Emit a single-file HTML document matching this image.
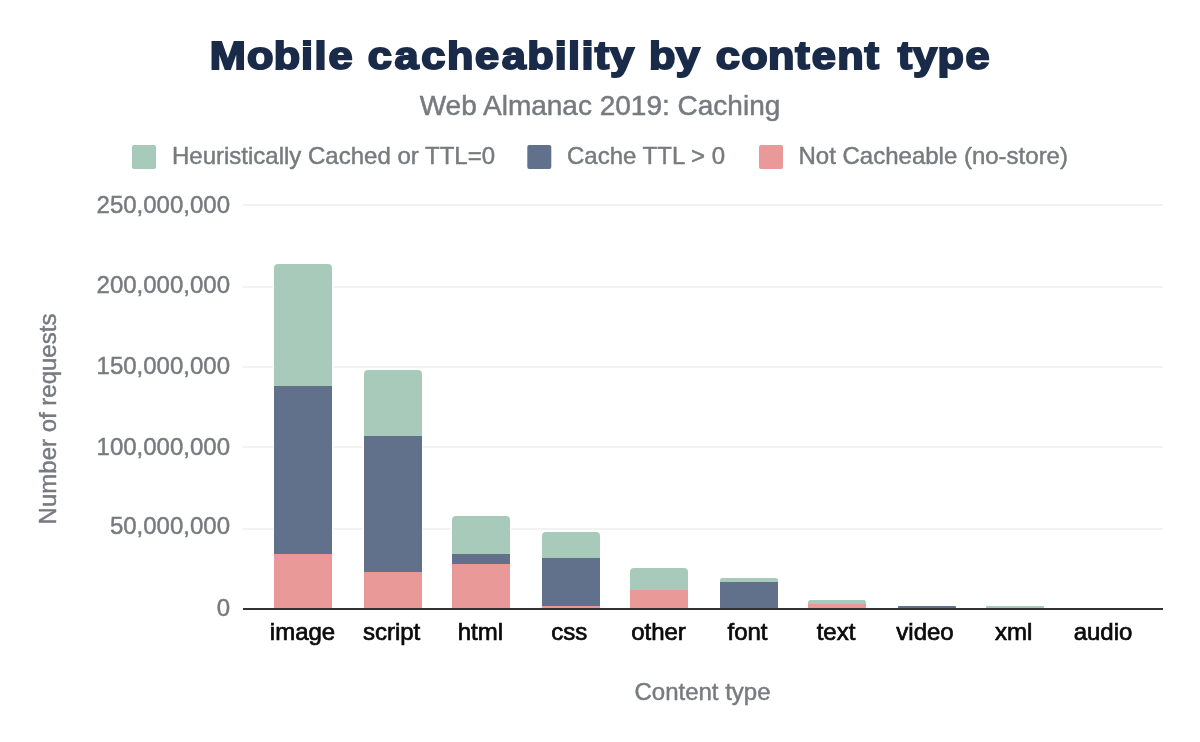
<!DOCTYPE html>
<html lang="en">
<head>
<meta charset="utf-8">
<title>Mobile cacheability by content type</title>
<style>
html,body{margin:0;padding:0;background:#fff;}
body{width:1200px;height:742px;overflow:hidden;font-family:"Liberation Sans",sans-serif;}
svg{display:block;}
text{font-family:"Liberation Sans",sans-serif;}
.title{font-family:"Liberation Sans",sans-serif;font-weight:bold;font-size:39px;fill:#1a2b49;stroke:#1a2b49;stroke-width:2px;stroke-linejoin:miter;stroke-miterlimit:2;}
.sub{font-size:28px;fill:#777a7e;stroke:#777a7e;stroke-width:0.5px;}
.leg{font-size:24px;fill:#777a7e;stroke:#777a7e;stroke-width:0.45px;}
.yl{font-size:24px;fill:#777a7e;stroke:#777a7e;stroke-width:0.45px;}
.xl{font-size:24px;fill:#0a0a0a;stroke:#0a0a0a;stroke-width:0.7px;}
.at{font-size:24px;fill:#777a7e;stroke:#777a7e;stroke-width:0.45px;}
.grid rect{fill:#f2f2f2;}
.g{fill:#a8cabb;}
.b{fill:#62718b;}
.p{fill:#ea9999;}
</style>
</head>
<body>
<svg width="1200" height="742" viewBox="0 0 1200 742">
<rect width="1200" height="742" fill="#ffffff"/>
<text class="title" transform="scale(1.11 1)" y="68.7" x="188.91 222.42 246.57 271.18 283.24 295.92 319.45 331.23 355.39 379.54 402.63 427.86 452.01 475.10 499.70 511.76 523.82 535.82 549.58 572.10 584.66 608.87 631.39 644.75 667.84 691.99 716.53 731.30 754.39 778.93 793.08 808.87 822.62 844.70 869.92">Mobile cacheability by content type</text>
<text class="sub" x="600" y="115" text-anchor="middle">Web Almanac 2019: Caching</text>

<g class="legend">
<rect x="132" y="145" width="24" height="24" rx="2" class="g"/>
<text class="leg" x="172" y="164">Heuristically Cached or TTL=0</text>
<rect x="527.3" y="145" width="24" height="24" rx="2" class="b"/>
<text class="leg" x="567" y="164">Cache TTL &gt; 0</text>
<rect x="759" y="145" width="24" height="24" rx="2" class="p"/>
<text class="leg" x="798.5" y="164">Not Cacheable (no-store)</text>
</g>

<g class="grid">
<rect x="243" y="204" width="920" height="2"/>
<rect x="243" y="286" width="920" height="2"/>
<rect x="243" y="366" width="920" height="2"/>
<rect x="243" y="446" width="920" height="2"/>
<rect x="243" y="528" width="920" height="2"/>
</g>

<g class="ylabels" text-anchor="end">
<text class="yl" x="230" y="213.1">250,000,000</text>
<text class="yl" x="230" y="292.8">200,000,000</text>
<text class="yl" x="230" y="373.5">150,000,000</text>
<text class="yl" x="230" y="454.9">100,000,000</text>
<text class="yl" x="230" y="534.4">50,000,000</text>
<text class="yl" x="230" y="616.3">0</text>
</g>

<g class="bars">
<rect x="273" y="263" width="60" height="345" fill="#fff"/>
<path class="g" d="M274 386V268a4 4 0 0 1 4-4h50a4 4 0 0 1 4 4V386z"/>
<rect class="b" x="274" y="386" width="58" height="168"/>
<rect class="p" x="274" y="554" width="58" height="54"/>
<rect x="363" y="369" width="60" height="239" fill="#fff"/>
<path class="g" d="M364 436V374a4 4 0 0 1 4-4h50a4 4 0 0 1 4 4V436z"/>
<rect class="b" x="364" y="436" width="58" height="136"/>
<rect class="p" x="364" y="572" width="58" height="36"/>
<rect x="451" y="515" width="60" height="93" fill="#fff"/>
<path class="g" d="M452 554V520a4 4 0 0 1 4-4h50a4 4 0 0 1 4 4V554z"/>
<rect class="b" x="452" y="554" width="58" height="10"/>
<rect class="p" x="452" y="564" width="58" height="44"/>
<rect x="541" y="531" width="60" height="77" fill="#fff"/>
<path class="g" d="M542 558V536a4 4 0 0 1 4-4h50a4 4 0 0 1 4 4V558z"/>
<rect class="b" x="542" y="558" width="58" height="48"/>
<rect class="p" x="542" y="606" width="58" height="2"/>
<rect x="629" y="567" width="60" height="41" fill="#fff"/>
<path class="g" d="M630 590V572a4 4 0 0 1 4-4h50a4 4 0 0 1 4 4V590z"/>
<rect class="p" x="630" y="590" width="58" height="18"/>
<rect x="719" y="577" width="60" height="31" fill="#fff"/>
<path class="g" d="M720 582V580.5a2.5 2.5 0 0 1 2.5-2.5h53.0a2.5 2.5 0 0 1 2.5 2.5V582z"/>
<rect class="b" x="720" y="582" width="58" height="26"/>
<rect x="807" y="599" width="60" height="9" fill="#fff"/>
<path class="g" d="M808 604V602.5a2.5 2.5 0 0 1 2.5-2.5h53.0a2.5 2.5 0 0 1 2.5 2.5V604z"/>
<rect class="p" x="808" y="604" width="58" height="4"/>
<rect x="897" y="605" width="60" height="3" fill="#fff"/>
<path class="b" d="M898 608V606.8a0.8 0.8 0 0 1 0.8-0.8h56.4a0.8 0.8 0 0 1 0.8 0.8V608z"/>
<rect x="985" y="605" width="60" height="3" fill="#fff"/>
<path class="g" d="M986 608V606.8a0.8 0.8 0 0 1 0.8-0.8h56.4a0.8 0.8 0 0 1 0.8 0.8V608z"/>
</g>

<rect x="243" y="608" width="920" height="2" fill="#333"/>

<g class="xlabels" text-anchor="middle">
<text class="xl" x="302.5" y="640">image</text>
<text class="xl" x="391.6" y="640">script</text>
<text class="xl" x="480.4" y="640">html</text>
<text class="xl" x="569.2" y="640">css</text>
<text class="xl" x="658.5" y="640">other</text>
<text class="xl" x="747.5" y="640">font</text>
<text class="xl" x="836" y="640">text</text>
<text class="xl" x="925" y="640">video</text>
<text class="xl" x="1013.7" y="640">xml</text>
<text class="xl" x="1103" y="640">audio</text>
</g>

<text class="at" x="702.5" y="700" text-anchor="middle">Content type</text>
<text class="at" transform="translate(56,419) rotate(-90)" text-anchor="middle">Number of requests</text>
</svg>
</body>
</html>
